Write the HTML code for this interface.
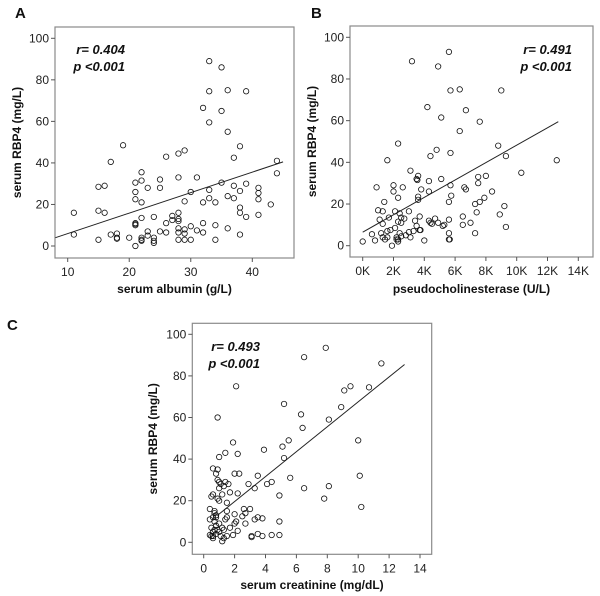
<!DOCTYPE html>
<html><head><meta charset="utf-8"><style>
body{margin:0;background:#fff;}
svg{display:block;font-family:"Liberation Sans",Arial,sans-serif;}
</style></head><body>
<svg id="chart" width="600" height="596" viewBox="0 0 600 596"></svg>
<script>
// Panel A data: serum albumin (g/L) vs RBP4 (mg/L)
const albuminX=[11,11,15,16,15,16,15,17,17,18,18,18,19,20,21,21,21,21,21,21,21,22,22,22,22,22,22,22,23,23,23,24,24,24,24,25,25,25,26,26,26,27,27,28,28,28,28,28,28,28,28,29,29,29,29,29,30,30,30,31,31,32,32,32,32,33,33,33,33,33,34,34,34,35,35,35,36,36,36,36,37,37,37,38,38,38,38,38,39,39,39,41,41,41,41,43,44,44];
const albuminY=[16,5.5,28.5,29,17,16,3,40.5,5.5,6,4,3.5,48.5,4,30.5,26,22.5,11,10.5,10,0,35.5,31.5,21,13.5,3,2.5,4,28,7,5,14,4,2.5,1.5,32,28,7,43,11,6.5,14.5,12.5,44.5,33,16,13,12,8.5,6.5,3,46,21.5,8,6,3,26,9.5,3,33,7.5,66.5,21,11,6.5,89,74.5,59.5,27,23,21,10,3,86,65,30.5,75,55,24,8.5,42.5,29,23,48,26.5,18.5,16,5.5,74.5,30,14,28,25.5,22.5,15,20,41,35];
// Panel B data: pseudocholinesterase (K U/L) vs RBP4
const pcheX=[0,0.6,0.8,0.9,1.0,1.1,1.2,1.3,1.3,1.4,1.3,1.45,1.6,1.6,1.6,1.7,1.8,1.9,2.0,2.0,2.1,2.1,2.2,2.2,2.3,2.3,2.3,2.3,2.3,2.4,2.4,2.5,2.5,2.5,2.6,2.7,2.8,3.0,3.0,3.1,3.1,3.2,3.3,3.4,3.5,3.5,3.55,3.6,3.6,3.6,3.7,3.75,3.7,3.8,4.0,4.2,4.3,4.3,4.3,4.4,4.4,4.5,4.7,4.8,4.9,4.9,5.1,5.1,5.2,5.3,5.6,5.6,5.6,5.6,5.65,5.6,5.7,5.7,5.7,5.75,6.3,6.3,6.5,6.5,6.6,6.7,6.7,7.0,7.3,7.3,7.4,7.5,7.5,7.6,7.6,7.9,8.0,8.4,8.8,8.9,9.0,9.2,9.3,9.3,10.3,12.6];
const pcheY=[2,5.5,2.5,28,17,12.5,6,10.5,16.5,21,4,3,41,7,4,13.5,7.5,0,29,26,16.5,8.5,4,3,49,23,11.5,2,3,15.5,6,13.5,11,4.5,28,13,5,6.5,16.5,36,4,88.5,7,12,9.5,32,31.5,23.5,22,33.5,7.5,7.5,14,27,2.5,66.5,31,12,26,43,11,10.5,13,46,11,86,61.5,32,9.5,10,21,12.5,6,3,3,93,74.5,44.5,29,24,75,55,14,10,28,65,27,11,20,6,16,33,30,59.5,21,23,33.5,26,48,15,74.5,19,43,9,35,41];
// Panel C data: serum creatinine (mg/dL) vs RBP4
const creatX=[0.4,0.4,0.4,0.5,0.5,0.5,0.6,0.6,0.6,0.6,0.6,0.6,0.7,0.7,0.7,0.7,0.8,0.8,0.8,0.8,0.8,0.9,0.9,0.9,0.9,0.9,1.0,1.0,1.0,1.0,1.0,1.0,1.1,1.1,1.2,1.2,1.2,1.3,1.3,1.3,1.4,1.4,1.4,1.5,1.5,1.5,1.5,1.6,1.7,1.7,1.9,1.9,2.0,2.0,2.0,2.1,2.1,2.2,2.2,2.2,2.3,2.5,2.6,2.7,2.7,2.9,3.0,3.1,3.1,3.3,3.3,3.5,3.5,3.5,3.8,3.8,3.9,4.1,4.4,4.4,4.9,4.9,4.9,5.1,5.2,5.2,5.5,5.6,6.3,6.4,6.5,6.5,7.8,7.9,8.1,8.1,8.9,9.1,9.5,10.0,10.1,10.2,10.7,11.5];
const creatY=[16,11,3.5,3,22,7,35.5,23,12,5,3,2,15,14,10,6,33,13,12,8,4,60,35,30,21,6,29,26,20,41,9,5,28,3,23,0.5,7,27,6,2,43,29,11,19,15,12,3,28,24,7,48,3.5,33,13.5,9,75,10,42.5,23.5,5.5,33,12.5,16,14,9,28,16,3,2.5,11,26,32,12,4,11.5,3,44.5,28,29,3.5,22.5,10,3.5,46,66.5,40.5,49,31,61.5,55,89,26,21,93.5,59,27,65,73,75,49,32,17,74.5,86];
const yTicks=[0,20,40,60,80,100];
const albTicks=[10,20,30,40];
const pcheTicks=[0,2,4,6,8,10,12,14];
const pcheTickLabels=["0K","2K","4K","6K","8K","10K","12K","14K"];
const creatTicks=[0,2,4,6,8,10,12,14];
const fitA=[[8,4],[45,40.5]];
const fitB=[[0,6.5],[12.7,59.5]];
const fitC=[[0.9,13],[13,85.5]];

const NS="http://www.w3.org/2000/svg";
const svg=document.getElementById('chart');
function mk(tag,attrs,parent){const e=document.createElementNS(NS,tag);for(const k in attrs)e.setAttribute(k,attrs[k]);(parent||svg).appendChild(e);return e;}

function panel(p){
  const g=mk('g',{});
  
  
  const sx=v=>p.x0px+(v-p.x0)*(p.x1px-p.x0px)/(p.x1-p.x0);
  const sy=v=>p.y0px+(v-0)*(p.y100px-p.y0px)/100;
  const box=mk('rect',{x:p.L,y:p.T,width:p.R-p.L,height:p.B-p.T,fill:'none',stroke:'#8a8a8a','stroke-width':1.2},g);
  
  
  yTicks.forEach(t=>{
    mk('line',{x1:p.L-4,x2:p.L,y1:sy(t),y2:sy(t),stroke:'#555'},g);
    const tx=mk('text',{x:p.L-6,y:sy(t)+4,'text-anchor':'end','font-size':12,fill:'#222'},g);
    tx.textContent=t;
    
    
  });
  p.xt.forEach((t,i)=>{
    mk('line',{x1:sx(t),x2:sx(t),y1:p.B,y2:p.B+4,stroke:'#555'},g);
    const tx=mk('text',{x:sx(t),y:p.B+18,'text-anchor':'middle','font-size':12,fill:'#222'},g);
    tx.textContent=p.xl?p.xl[i]:t;
    
    
  });
  const fl=mk('line',{x1:sx(p.fit[0][0]),y1:sy(p.fit[0][1]),x2:sx(p.fit[1][0]),y2:sy(p.fit[1][1]),stroke:'#222','stroke-width':1},g);
  
  
  p.xs.forEach((v,i)=>{
    const c=mk('circle',{cx:sx(v),cy:sy(p.ys[i]),r:2.7,fill:'none',stroke:'#111','stroke-width':0.8},g);
    
    
  });
  const yt=mk('text',{x:0,y:0,transform:`translate(${p.ytx},${(p.T+p.B)/2}) rotate(-90)`,'text-anchor':'middle','font-size':12,'font-weight':'bold',fill:'#111'},g);
  yt.textContent='serum RBP4 (mg/L)';
  
  
  const xt=mk('text',{x:(p.L+p.R)/2,y:p.xty,'text-anchor':'middle','font-size':12,'font-weight':'bold',fill:'#111'},g);
  xt.textContent=p.xtitle;
  
  
  const a1=mk('text',{x:p.ax,y:p.ay,'text-anchor':'end','font-size':13,'font-weight':'bold','font-style':'italic',fill:'#111'},g);
  a1.textContent=p.r;
  
  
  const a2=mk('text',{x:p.ax,y:p.ay+17,'text-anchor':'end','font-size':13,'font-weight':'bold','font-style':'italic',fill:'#111'},g);
  a2.textContent='p <0.001';
  
  
  const lt=mk('text',{x:p.lx,y:p.ly,'font-size':15,'font-weight':'bold',fill:'#111'},g);
  lt.textContent=p.letter;
  
  
}

panel({name:'panel-a',L:55,R:294,T:27,B:258,x0:10,x1:40,x0px:67.7,x1px:252.3,y0px:246,y100px:38.3,
  xt:albTicks,xs:albuminX,ys:albuminY,fit:fitA,ytx:21,xty:293,xtitle:'serum albumin (g/L)',
  r:'r= 0.404',ax:125,ay:54,letter:'A',lx:15,ly:18});
panel({name:'panel-b',L:350,R:593,T:26,B:257,x0:0,x1:14,x0px:362.7,x1px:578.3,y0px:245.7,y100px:37.3,
  xt:pcheTicks,xl:pcheTickLabels,xs:pcheX,ys:pcheY,fit:fitB,ytx:316,xty:293,xtitle:'pseudocholinesterase (U/L)',
  r:'r= 0.491',ax:572,ay:54,letter:'B',lx:311,ly:18});
panel({name:'panel-c',L:192.3,R:431.7,T:323.3,B:554.3,x0:0,x1:14,x0px:203.7,x1px:420,y0px:542.3,y100px:334.3,
  xt:creatTicks,xs:creatX,ys:creatY,fit:fitC,ytx:157,xty:589,xtitle:'serum creatinine (mg/dL)',
  r:'r= 0.493',ax:260,ay:351,letter:'C',lx:7,ly:330});
</script>
</body></html>
